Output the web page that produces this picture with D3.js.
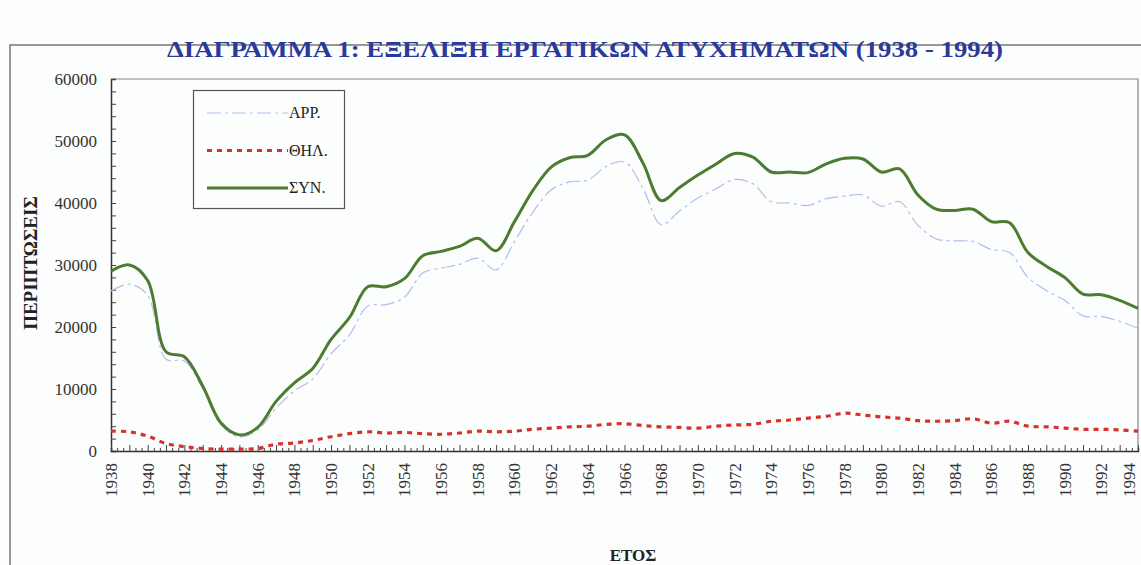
<!DOCTYPE html>
<html>
<head>
<meta charset="utf-8">
<script src="https://cdn.jsdelivr.net/npm/d3@7"></script>
<style>
  body { margin: 0; background: #fcfdfd; }
  text { font-family: "Liberation Serif", "DejaVu Serif", serif; }
</style>
</head>
<body>
<div id="chart"></div>
<script>
// years on the x axis
var years = [1938, 1939, 1940, 1941, 1942, 1943, 1944, 1945, 1946, 1947,
  1948, 1949, 1950, 1951, 1952, 1953, 1954, 1955, 1956, 1957,
  1958, 1959, 1960, 1961, 1962, 1963, 1964, 1965, 1966, 1967,
  1968, 1969, 1970, 1971, 1972, 1973, 1974, 1975, 1976, 1977,
  1978, 1979, 1980, 1981, 1982, 1983, 1984, 1985, 1986, 1987,
  1988, 1989, 1990, 1991, 1992, 1993, 1994];

// ΑΡΡ. (male)
var arr = [25800, 26900, 25100, 14800, 14500, 10100, 4200, 2300, 3400, 6900,
  9700, 11600, 15700, 18700, 23400, 23600, 24800, 28700, 29500, 30100,
  31100, 29200, 33800, 38500, 42100, 43400, 43700, 45900, 46600, 42400,
  36500, 38700, 40800, 42300, 43800, 43100, 40200, 40000, 39600, 40700,
  41100, 41300, 39500, 40200, 36400, 34200, 33900, 33800, 32500, 32000,
  28000, 25900, 24300, 21800, 21700, 20900, 19800];

// ΘΗΛ. (female)
var thil = [3200, 3100, 2400, 1200, 700, 400, 300, 300, 400, 1100,
  1300, 1700, 2300, 2800, 3100, 2900, 3000, 2800, 2700, 2900,
  3200, 3100, 3200, 3500, 3700, 3900, 4000, 4300, 4400, 4100,
  3900, 3800, 3700, 4000, 4200, 4300, 4800, 5000, 5300, 5600,
  6100, 5800, 5500, 5300, 4900, 4800, 4900, 5200, 4500, 4800,
  4000, 3900, 3700, 3500, 3500, 3400, 3200];

// ΣΥΝ. (total)
var syn = [29000, 30000, 27500, 16000, 15200, 10500, 4500, 2600, 3800, 8000,
  11000, 13300, 18000, 21500, 26500, 26500, 27800, 31500, 32200, 33000,
  34300, 32300, 37000, 42000, 45800, 47300, 47700, 50200, 51000, 46500,
  40400, 42500, 44500, 46300, 48000, 47400, 45000, 45000, 44900, 46300,
  47200, 47100, 45000, 45500, 41300, 39000, 38800, 39000, 37000, 36800,
  32000, 29800, 28000, 25300, 25200, 24300, 23000];

var yTicks = [0, 10000, 20000, 30000, 40000, 50000, 60000];
var xLabels = years.filter(function(d) { return (d - 1938) % 2 === 0; });

var W = 1141, H = 565;
var margin = {top: 79, right: 3, bottom: 114, left: 111};

var svg = d3.select("#chart")
  .append("svg")
  .attr("width", W)
  .attr("height", H);

// outer frame of the scanned page
svg.append("path")
  .attr("d", "M10," + H + "V45H" + W)
  .attr("fill", "none")
  .attr("stroke", "#777")
  .attr("stroke-width", 1.5);

var x = d3.scaleLinear()
  .domain([1938, 1994])
  .range([margin.left, W - margin.right]);

var y = d3.scaleLinear()
  .domain([0, 60000])
  .range([H - margin.bottom, margin.top]);

// plot border (top and right)
svg.append("path")
  .attr("d", "M" + margin.left + "," + margin.top + "H" + (W - margin.right) + "V" + y(0))
  .attr("fill", "none")
  .attr("stroke", "#888")
  .attr("stroke-width", 1.2);

// title
svg.append("text")
  .attr("x", 585)
  .attr("y", 57)
  .attr("text-anchor", "middle")
  .attr("font-size", 23)
  .attr("font-weight", "bold")
  .attr("fill", "#2b3a98")
  .attr("textLength", 836)
  .attr("lengthAdjust", "spacingAndGlyphs")
  .text("ΔΙΑΓΡΑΜΜΑ 1: ΕΞΕΛΙΞΗ ΕΡΓΑΤΙΚΩΝ ΑΤΥΧΗΜΑΤΩΝ (1938 - 1994)");

// Y axis, ticks pointing inside
var yAxis = svg.append("g")
  .attr("transform", "translate(" + margin.left + ",0)")
  .call(d3.axisRight(y).tickValues(d3.range(0, 60001, 2000)).tickSize(5).tickFormat(""));
yAxis.select(".domain").attr("stroke", "#333").attr("stroke-width", 1.5);
yAxis.selectAll(".tick line").attr("stroke", "#444");

svg.append("g")
  .selectAll("text")
  .data(yTicks)
  .enter()
  .append("text")
  .attr("x", margin.left - 14)
  .attr("y", function(d) { return y(d) + 6; })
  .attr("text-anchor", "end")
  .attr("font-size", 17)
  .attr("fill", "#333")
  .text(function(d) { return d; });

// X axis, ticks pointing up
var xAxis = svg.append("g")
  .attr("transform", "translate(0," + y(0) + ")")
  .call(d3.axisTop(x).tickValues(d3.range(1938, 1994.01, 1 / 3)).tickSize(3).tickFormat(""));
xAxis.select(".domain").attr("stroke", "#333").attr("stroke-width", 1.5);
xAxis.selectAll(".tick line").attr("stroke", "#444")
  .attr("y2", function(d) { return Math.abs(d - Math.round(d)) < 0.01 ? -6 : -3; });

svg.append("g")
  .selectAll("text")
  .data(xLabels)
  .enter()
  .append("text")
  .attr("transform", function(d) { return "translate(" + Math.min(x(d) + 6, W - 6) + "," + (y(0) + 12) + ") rotate(-90)"; })
  .attr("text-anchor", "end")
  .attr("font-size", 17)
  .attr("fill", "#333")
  .text(function(d) { return d; });

// axis titles
svg.append("text")
  .attr("transform", "translate(37,263) rotate(-90)")
  .attr("text-anchor", "middle")
  .attr("font-size", 19)
  .attr("font-weight", "bold")
  .attr("fill", "#222")
  .text("ΠΕΡΙΠΤΩΣΕΙΣ");

svg.append("text")
  .attr("x", 633)
  .attr("y", 561)
  .attr("text-anchor", "middle")
  .attr("font-size", 17)
  .attr("font-weight", "bold")
  .attr("fill", "#222")
  .text("ΕΤΟΣ");

// lines
var series = [
  {name: "ΑΡΡ.", values: arr, color: "#b9b9ee", width: 1.2, dash: "14,4,3,4"},
  {name: "ΘΗΛ.", values: thil, color: "#d9302c", width: 3.2, dash: "5,5"},
  {name: "ΣΥΝ.", values: syn, color: "#4d7c30", width: 3, dash: null}
];

var line = d3.line()
  .x(function(d) { return x(d[0]); })
  .y(function(d) { return y(d[1]); })
  .curve(d3.curveCatmullRom);

svg.append("g")
  .selectAll("path")
  .data(series)
  .enter()
  .append("path")
  .attr("d", function(s) { return line(years.map(function(yr, i) { return [yr, s.values[i]]; })); })
  .attr("fill", "none")
  .attr("stroke", function(s) { return s.color; })
  .attr("stroke-width", function(s) { return s.width; })
  .attr("stroke-dasharray", function(s) { return s.dash; });

// legend
var legend = svg.append("g");
legend.append("rect")
  .attr("x", 193.5)
  .attr("y", 90.5)
  .attr("width", 151)
  .attr("height", 118)
  .attr("fill", "#fdfefe")
  .attr("stroke", "#555")
  .attr("stroke-width", 1.2);

var li = legend.selectAll(".item")
  .data(series)
  .enter()
  .append("g")
  .attr("transform", function(d, i) { return "translate(0," + (113 + i * 37.5) + ")"; });
li.append("line")
  .attr("x1", 207).attr("x2", 288)
  .attr("stroke", function(s) { return s.color; })
  .attr("stroke-width", function(s) { return s.width; })
  .attr("stroke-dasharray", function(s) { return s.dash; });
li.append("text")
  .attr("x", 289)
  .attr("y", 5)
  .attr("font-size", 16)
  .attr("fill", "#222")
  .text(function(s) { return s.name; });
</script>
</body>
</html>
